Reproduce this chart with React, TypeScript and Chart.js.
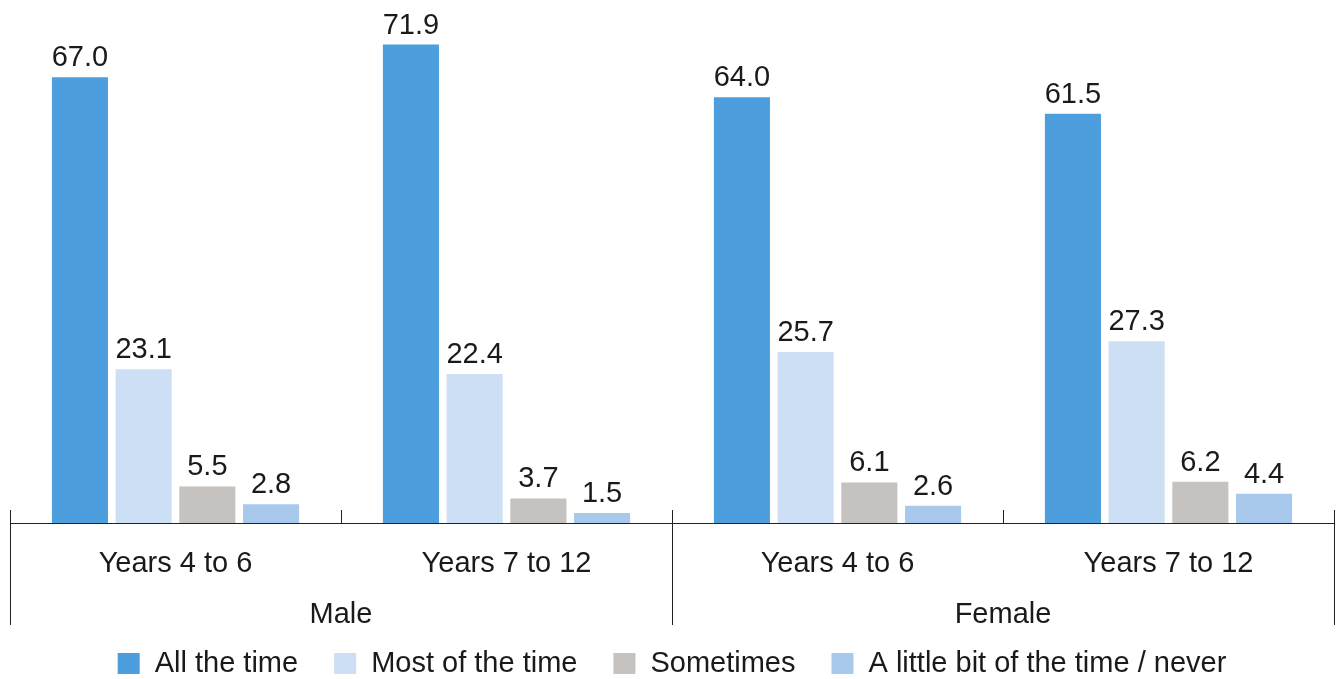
import React, { useEffect, useRef } from "react";
import { Chart, registerables } from "chart.js";

Chart.register(...registerables);

const categories = ["Years 4 to 6", "Years 7 to 12", "Years 4 to 6", "Years 7 to 12"];
const groups = ["Male", "Female"];
const seriesNames = ["All the time", "Most of the time", "Sometimes", "A little bit of the time / never"];
const allTheTime = [67.0, 71.9, 64.0, 61.5];
const mostOfTheTime = [23.1, 22.4, 25.7, 27.3];
const sometimes = [5.5, 3.7, 6.1, 6.2];
const littleOrNever = [2.8, 1.5, 2.6, 4.4];
const colors = ["#4D9EDC", "#CCDFF4", "#C5C2BF", "#A8C9EC"];

const FONT = "29px 'Liberation Sans', Arial, sans-serif";
const TEXT = "#1a1a1a";

const decorPlugin = {
  id: "decor",
  afterDatasetsDraw(chart: any) {
    const ctx = chart.ctx;
    const area = chart.chartArea;
    const x = chart.scales.x;
    ctx.save();
    // value labels
    ctx.font = FONT;
    ctx.fillStyle = TEXT;
    ctx.textAlign = "center";
    ctx.textBaseline = "alphabetic";
    chart.data.datasets.forEach((ds: any, i: number) => {
      const meta = chart.getDatasetMeta(i);
      meta.data.forEach((bar: any, j: number) => {
        ctx.fillText(Number(ds.data[j]).toFixed(1), bar.x, bar.y - 11);
      });
    });
    // axis line
    const y0 = Math.round(area.bottom) + 0.5;
    ctx.strokeStyle = "#222";
    ctx.lineWidth = 1;
    ctx.beginPath();
    ctx.moveTo(area.left, y0);
    ctx.lineTo(area.right, y0);
    ctx.stroke();
    const n = categories.length;
    const step = (area.right - area.left) / n;
    for (let k = 0; k <= n; k++) {
      const px = Math.round(area.left + k * step) + 0.5;
      const long = k % 2 === 0;
      ctx.beginPath();
      ctx.moveTo(px, area.bottom - 13);
      ctx.lineTo(px, long ? area.bottom + 102 : area.bottom);
      ctx.stroke();
    }
    // category labels
    ctx.textBaseline = "middle";
    categories.forEach((c, i) => {
      ctx.fillText(c, x.getPixelForValue(i), area.bottom + 41);
    });
    groups.forEach((g, i) => {
      const cx = (x.getPixelForValue(i * 2) + x.getPixelForValue(i * 2 + 1)) / 2;
      ctx.fillText(g, cx, area.bottom + 92);
    });
    // legend
    const box = 22;
    const gapText = 15;
    const gapItem = 36;
    const widths = seriesNames.map((s) => box + gapText + ctx.measureText(s).width);
    const total = widths.reduce((a, b) => a + b, 0) + gapItem * (seriesNames.length - 1);
    let lx = (area.left + area.right) / 2 - total / 2;
    const ly = area.bottom + 141;
    ctx.textAlign = "left";
    seriesNames.forEach((s, i) => {
      ctx.fillStyle = colors[i];
      ctx.fillRect(lx, ly - 11, box, 21);
      ctx.fillStyle = TEXT;
      ctx.fillText(s, lx + box + gapText, ly);
      lx += widths[i] + gapItem;
    });
    ctx.restore();
  },
};

export default function App() {
  const ref = useRef<HTMLCanvasElement>(null);
  useEffect(() => {
    const values = [allTheTime, mostOfTheTime, sometimes, littleOrNever];
    const chart = new Chart(ref.current as HTMLCanvasElement, {
      type: "bar",
      data: {
        labels: categories,
        datasets: seriesNames.map((name, i) => ({
          label: name,
          data: values[i],
          backgroundColor: colors[i],
          borderWidth: 0,
          categoryPercentage: 0.77,
          barPercentage: 0.88,
        })),
      },
      options: {
        responsive: false,
        animation: false,
        layout: { padding: { top: 4, left: 10, right: 4, bottom: 156 } },
        plugins: { legend: { display: false }, tooltip: { enabled: false } },
        scales: {
          x: { display: false },
          y: { display: false, min: 0, max: 78 },
        },
      },
      plugins: [decorPlugin],
    });
    return () => chart.destroy();
  }, []);
  return (
    <div style={{ position: "absolute", left: 0, top: 0, width: 1338, height: 679, background: "#fff" }}>
      <canvas ref={ref} width={1338} height={679} />
    </div>
  );
}
